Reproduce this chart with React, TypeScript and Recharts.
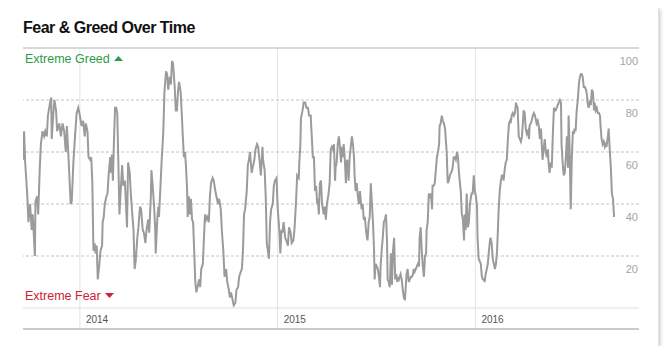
import React from "react";
import { LineChart, Line, XAxis, YAxis, ReferenceLine } from "recharts";

// Fear & Greed index readings, [days since 2013-09-18, value]
const fg2013: [number, number][] = [
  [0, 57], [2, 68], [4, 56], [8, 43], [10, 33], [13, 40], [16, 30], [18, 36], [22, 20], [23, 41],
  [26, 43], [28, 36], [31, 54], [33, 63], [36, 68], [39, 66], [41, 68], [44, 66], [46, 74], [50, 79],
  [52, 81], [53, 65], [56, 75], [58, 80], [61, 76], [63, 68], [67, 71], [70, 66], [73, 71], [76, 68],
  [79, 60], [81, 70], [84, 58], [88, 40], [90, 41], [93, 56], [96, 66], [99, 75], [102, 77],
];

const fg2014: [number, number][] = [
  [105, 74], [108, 70], [111, 72], [114, 66], [116, 71], [119, 68], [121, 58], [124, 57], [126, 58], [128, 48],
  [130, 22], [132, 25], [134, 21], [136, 24], [138, 11], [141, 17], [143, 22], [146, 24], [147, 33], [149, 35],
  [151, 40], [154, 43], [156, 44], [158, 51], [161, 58], [162, 52], [164, 59], [166, 49], [168, 65], [170, 77],
  [172, 77], [174, 75], [176, 56], [178, 36], [180, 44], [183, 55], [185, 47], [188, 49], [190, 40], [192, 31],
  [194, 56], [197, 52], [199, 44], [201, 38], [204, 30], [206, 15], [208, 18], [211, 27], [213, 31], [216, 39],
  [218, 38], [221, 30], [223, 29], [226, 25], [228, 30], [231, 34], [233, 29], [236, 43], [237, 53], [239, 48],
  [242, 39], [244, 30], [245, 21], [248, 35], [250, 39], [251, 35], [254, 48], [256, 57], [259, 68], [261, 83],
  [264, 91], [266, 90], [268, 84], [271, 89], [273, 86], [275, 95], [277, 94], [280, 85], [282, 76], [284, 76],
  [286, 83], [288, 87], [291, 83], [293, 75], [295, 66], [297, 58], [299, 60], [301, 54], [303, 45], [304, 35],
  [306, 43], [308, 36], [310, 42], [312, 34], [314, 33], [316, 22], [318, 10], [320, 6], [323, 9], [325, 11],
  [327, 8], [329, 15], [332, 17], [334, 27], [336, 36], [338, 34], [340, 35], [343, 33], [345, 43], [347, 48],
  [350, 50], [352, 49], [355, 45], [357, 43], [360, 40], [362, 42], [365, 38], [367, 30], [370, 21], [372, 12],
  [375, 15], [377, 10], [380, 7], [382, 4], [384, 6], [387, 3], [389, 1], [392, 2], [394, 7], [397, 8],
  [399, 12], [402, 14], [404, 15], [406, 22], [408, 36], [410, 38], [413, 45], [415, 55], [417, 57], [419, 60],
  [422, 52], [424, 54], [427, 57], [429, 61], [432, 63], [434, 62], [437, 56], [439, 51], [442, 62], [443, 57],
  [446, 53], [448, 43], [450, 25], [452, 22], [454, 19], [456, 33], [458, 38], [461, 40], [463, 47], [465, 49],
  [468, 50],
];

const fg2015: [number, number][] = [
  [470, 39], [473, 30], [475, 21], [477, 30], [479, 29], [481, 33], [484, 27], [486, 26], [489, 24], [491, 31],
  [494, 29], [496, 25], [499, 26], [501, 30], [504, 41], [506, 51], [509, 50], [510, 56], [512, 63], [513, 73],
  [516, 76], [518, 79], [521, 79], [523, 77], [526, 77], [528, 74], [531, 74], [533, 66], [535, 58], [537, 58],
  [539, 45], [541, 47], [543, 40], [544, 42], [546, 36], [548, 48], [550, 49], [552, 40], [555, 36], [557, 39],
  [559, 34], [561, 40], [564, 44], [566, 48], [568, 61], [570, 62], [572, 61], [574, 63], [576, 49], [577, 54],
  [579, 56], [581, 63], [583, 66], [585, 62], [587, 56], [589, 62], [590, 58], [592, 63], [594, 57], [596, 48],
  [598, 57], [600, 56], [601, 49], [603, 58], [605, 62], [607, 66], [609, 63], [611, 58], [612, 51], [614, 45],
  [616, 48], [618, 43], [620, 40], [622, 45], [624, 40], [625, 38], [627, 40], [629, 34], [631, 35], [633, 30],
  [635, 27], [636, 26], [638, 33], [640, 35], [642, 48], [644, 40], [646, 33], [648, 22], [649, 11], [651, 17],
  [653, 16], [655, 15], [657, 12], [659, 8], [660, 16], [662, 22], [664, 27], [666, 33], [668, 34], [670, 36],
  [672, 25], [673, 11], [675, 10], [677, 8], [679, 21], [681, 9], [683, 22], [685, 27], [687, 11], [689, 13],
  [691, 10], [692, 12], [694, 11], [697, 13], [699, 11], [701, 7], [703, 4], [705, 3], [707, 10], [708, 13],
  [710, 15], [712, 10], [714, 11], [716, 12], [718, 12], [720, 13], [721, 15], [723, 14], [725, 15], [727, 16],
  [729, 17], [731, 16], [732, 27], [734, 31], [736, 22], [738, 16], [740, 12], [742, 20], [744, 21], [745, 30],
  [747, 33], [749, 44], [751, 43], [753, 44], [755, 38], [756, 47], [758, 47], [760, 48], [762, 53], [764, 58],
  [766, 60], [768, 63], [769, 70], [771, 71], [773, 74], [775, 72], [777, 71], [779, 69], [780, 66], [782, 60],
  [784, 48], [786, 49], [788, 51], [790, 52], [792, 53], [793, 54], [795, 58], [797, 58], [799, 57], [801, 60],
  [803, 58], [804, 54], [806, 49], [808, 45], [810, 36], [812, 34], [814, 26], [815, 36], [817, 30], [819, 44],
  [821, 31], [823, 33], [825, 40], [827, 43], [828, 44], [830, 44], [832, 51], [834, 45],
];

const fg2016: [number, number][] = [
  [836, 43], [838, 39], [839, 27], [841, 19], [843, 18], [845, 17], [847, 12], [849, 11], [851, 11], [852, 10],
  [854, 13], [856, 15], [858, 17], [860, 22], [862, 26], [863, 27], [865, 25], [867, 19], [869, 17], [871, 15],
  [873, 17], [875, 22], [876, 27], [878, 38], [880, 45], [882, 49], [884, 51], [886, 51], [887, 49], [889, 53],
  [891, 56], [893, 57], [895, 65], [897, 71], [899, 72], [900, 71], [902, 74], [904, 75], [906, 74], [908, 75],
  [910, 79], [911, 78], [913, 77], [915, 66], [917, 65], [919, 64], [921, 66], [923, 72], [924, 76], [926, 75],
  [928, 69], [930, 67], [932, 68], [934, 65], [935, 70], [937, 71], [939, 72], [941, 74], [943, 75], [945, 74],
  [947, 72], [948, 71], [950, 72], [952, 70], [954, 65], [956, 69], [958, 61], [959, 57], [961, 61], [963, 65],
  [965, 60], [967, 58], [969, 61], [970, 56], [972, 52], [974, 56], [976, 54], [978, 67], [980, 77], [982, 76],
  [983, 76], [985, 77], [987, 78], [989, 79], [991, 80], [993, 79], [994, 63], [996, 56], [998, 51], [1000, 52],
  [1002, 58], [1004, 66], [1006, 54], [1007, 74], [1009, 61], [1011, 38], [1013, 58], [1015, 68], [1017, 67], [1018, 69],
  [1020, 68], [1022, 76], [1024, 80], [1026, 86], [1028, 89], [1030, 90], [1031, 90], [1033, 89], [1035, 85], [1037, 85],
  [1039, 84], [1041, 82], [1042, 79], [1044, 77], [1046, 79], [1048, 78], [1050, 84], [1052, 83], [1054, 76], [1055, 79],
  [1057, 76], [1059, 77], [1061, 75], [1063, 75], [1065, 74], [1066, 70], [1068, 65], [1070, 63], [1072, 64], [1074, 62],
  [1076, 63], [1077, 62], [1079, 65], [1081, 69], [1083, 61], [1085, 54], [1087, 44], [1089, 42], [1091, 35],
];

const years = [2014, 2015, 2016];
const yTicks = [20, 40, 60, 80, 100];
const dashedLevels = [20, 40, 60, 80];

const DAY = 86400000;
const START = Date.UTC(2013, 8, 18);
const END = Date.UTC(2016, 9, 29);

const data = [...fg2013, ...fg2014, ...fg2015, ...fg2016].map(([d, v]) => ({
  date: START + d * DAY,
  value: v,
}));
const yearTicks = years.map((y) => Date.UTC(y, 0, 1));

const FONT = "'Liberation Sans', Arial, sans-serif";

function YearTick(props: any) {
  const { x, y, payload } = props;
  return (
    <g>
      <line x1={x} y1={y} x2={x} y2={y + 22} stroke="#e3e3e3" />
      <text x={x + 6} y={y + 11} dy="0.35em" fontSize={10} fill="#555" fontFamily={FONT}>
        {new Date(payload.value).getUTCFullYear()}
      </text>
    </g>
  );
}

function LevelTick(props: any) {
  const { x, y, payload } = props;
  return (
    <text x={x - 1} y={y + 13} dy="0.35em" textAnchor="end" fontSize={11} fill="#a3a3a3" fontFamily={FONT}>
      {payload.value}
    </text>
  );
}

function Triangle({ up, color }: { up: boolean; color: string }) {
  return (
    <svg width={9} height={5} style={{ marginLeft: 4, verticalAlign: "middle", position: "relative", top: -1 }}>
      <polygon points={up ? "0,5 4.5,0 9,5" : "0,0 9,0 4.5,5"} fill={color} />
    </svg>
  );
}

export default function App() {
  return (
    <div
      style={{
        position: "relative",
        width: 650,
        height: 338,
        background: "#fff",
        boxShadow: "0 0 0 1px #e2e2e2, 1px 1px 5px rgba(0,0,0,0.35)",
        fontFamily: FONT,
      }}
    >
      <div
        style={{
          position: "absolute",
          left: 15,
          top: 12,
          fontSize: 16,
          lineHeight: "16px",
          fontWeight: "bold",
          color: "#111",
          letterSpacing: -0.5,
        }}
      >
        Fear &amp; Greed Over Time
      </div>
      <div style={{ position: "absolute", left: 0, top: 0 }}>
        <LineChart width={650} height={338} data={data} margin={{ top: 40, right: 19, bottom: 8, left: 15 }}>
          {years.map((y, i) => (
            <ReferenceLine key={y} x={yearTicks[i]} stroke="#e3e3e3" />
          ))}
          {dashedLevels.map((v) => (
            <ReferenceLine key={v} y={v} stroke="#c4c4c4" strokeDasharray="3 2" />
          ))}
          <ReferenceLine y={100} stroke="#cccccc" strokeWidth={1.5} />
          <XAxis
            dataKey="date"
            type="number"
            domain={[START, END]}
            allowDataOverflow
            ticks={yearTicks}
            tick={<YearTick />}
            tickLine={false}
            tickSize={0}
            tickMargin={0}
            height={30}
            axisLine={{ stroke: "#e0e0e0" }}
          />
          <YAxis
            orientation="right"
            mirror
            width={40}
            domain={[0, 100]}
            ticks={yTicks}
            interval={0}
            tick={<LevelTick />}
            tickLine={false}
            tickSize={0}
            tickMargin={0}
            axisLine={false}
          />
          <Line
            type="linear"
            dataKey="value"
            stroke="#9b9b9b"
            strokeWidth={2}
            dot={false}
            isAnimationActive={false}
          />
        </LineChart>
      </div>
      <div style={{ position: "absolute", left: 15, top: 320, width: 616, height: 2, background: "#cbcbcb" }} />
      <div
        style={{ position: "absolute", left: 17, top: 45, fontSize: 12.5, lineHeight: "12.5px", color: "#2e9a4a", whiteSpace: "nowrap" }}
      >
        Extreme Greed
        <Triangle up color="#2e9a4a" />
      </div>
      <div
        style={{ position: "absolute", left: 17, top: 282, fontSize: 12.5, lineHeight: "12.5px", color: "#cc2233", whiteSpace: "nowrap" }}
      >
        Extreme Fear
        <Triangle up={false} color="#cc2233" />
      </div>
    </div>
  );
}
